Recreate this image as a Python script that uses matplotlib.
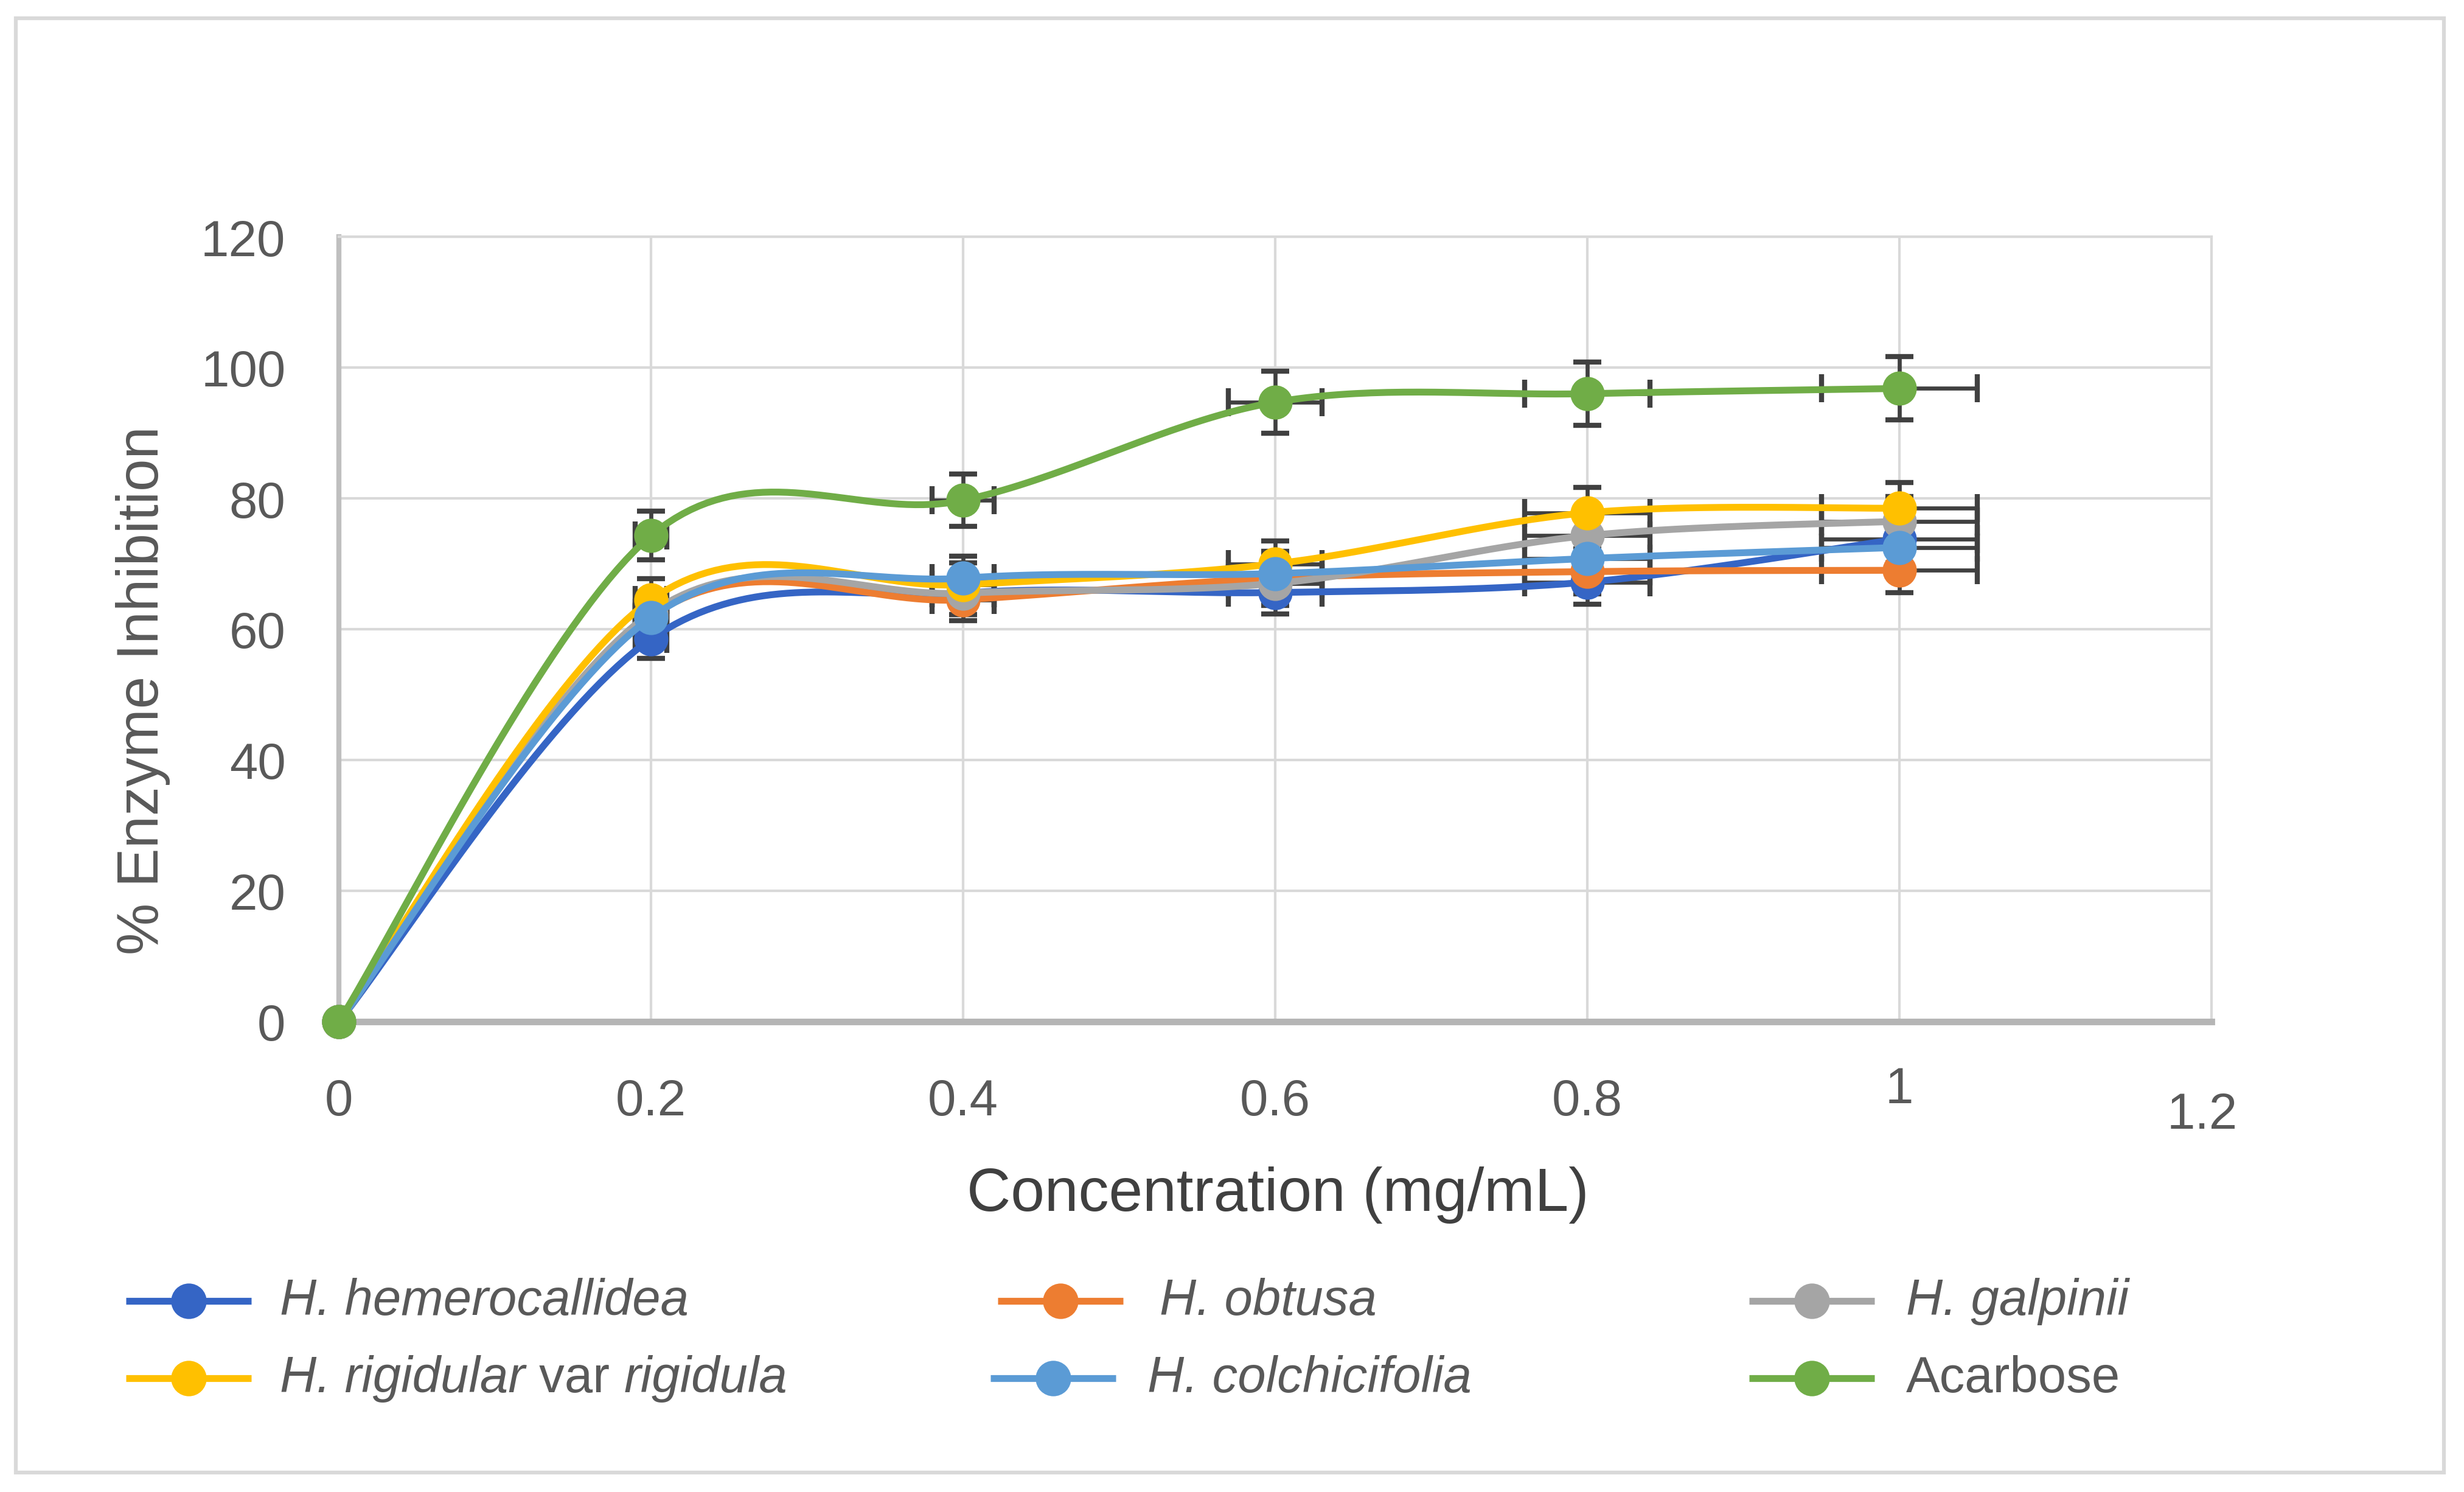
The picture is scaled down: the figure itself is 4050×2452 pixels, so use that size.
import numpy as np
import matplotlib
matplotlib.use("Agg")
import matplotlib.pyplot as plt
from matplotlib.lines import Line2D
from matplotlib.patches import Rectangle
from matplotlib.transforms import ScaledTranslation

plt.rcParams['font.family'] = ['Liberation Sans', 'DejaVu Sans']

# ---- data ----
conc = [0, 0.2, 0.4, 0.6, 0.8, 1.0]
hemerocallidea = [0, 58.5, 65.5, 65.6, 67.2, 73.8]
obtusa = [0, 62.0, 64.5, 67.8, 68.8, 69.0]
galpinii = [0, 62.5, 65.5, 67.0, 74.3, 76.5]
rigidula = [0, 64.5, 66.8, 70.0, 77.8, 78.5]
colchicifolia = [0, 61.8, 67.8, 68.5, 70.8, 72.5]
acarbose = [0, 74.3, 79.7, 94.7, 96.0, 96.8]
err_pct = 0.05   # Excel percentage error bars, both directions

# legend labels as (text piece, italic?) runs
legend_labels = [[("H. hemerocallidea", True)],
                 [("H. obtusa", True)],
                 [("H. galpinii", True)],
                 [("H. rigidular", True), (" var ", False), ("rigidula", True)],
                 [("H. colchicifolia", True)],
                 [("Acarbose", False)]]
series_vals = [hemerocallidea, obtusa, galpinii, rigidula, colchicifolia, acarbose]
colors = ['#3565C5', '#ED7D31', '#A5A5A5', '#FFC000', '#5B9BD5', '#70AD47']


def smooth(xs, ys, n=40):
    """Excel-style smoothed line: cubic Bezier through points, tangent = (next - prev)/6."""
    pts = np.column_stack([xs, ys]).astype(float)
    out = []
    for i in range(len(pts) - 1):
        p0 = pts[i - 1] if i > 0 else pts[i]
        p1, p2 = pts[i], pts[i + 1]
        p3 = pts[i + 2] if i + 2 < len(pts) else pts[i + 1]
        c1 = p1 + (p2 - p0) / 6
        c2 = p2 - (p3 - p1) / 6
        t = np.linspace(0, 1, n)[:, None]
        seg = (1 - t)**3 * p1 + 3 * (1 - t)**2 * t * c1 + 3 * (1 - t) * t**2 * c2 + t**3 * p2
        out.append(seg if i == 0 else seg[1:])
    return np.vstack(out)


W, H = 4050, 2453
fig = plt.figure(figsize=(W / 300, H / 300), dpi=300)
ax = fig.add_axes([557 / W, 1 - 1680 / H, (3635 - 557) / W, (1680 - 390) / H])

x = np.array(conc)
for vals in series_vals:
    y = np.array(vals, dtype=float)
    ax.errorbar(x, y, yerr=err_pct * y, xerr=err_pct * x, fmt='none', ecolor='#404040',
                elinewidth=1.6, capsize=5.5, capthick=2.0, zorder=2)
for i, (vals, c) in enumerate(zip(series_vals, colors)):
    curve = smooth(conc, vals)
    z = 3 + i * 0.1
    ax.plot(curve[:, 0], curve[:, 1], color=c, lw=2.7, solid_capstyle='round', zorder=z)
    ax.plot(conc, vals, 'o', color=c, ms=12.5, mec=c, zorder=z + 0.05, clip_on=False)

ax.set_xlim(0, 1.2)
ax.set_ylim(0, 120)
ax.set_xticks([0, 0.2, 0.4, 0.6, 0.8, 1.0, 1.2])
ax.set_xticklabels(["0", "0.2", "0.4", "0.6", "0.8", "1", "1.2"])
ax.set_yticks(range(0, 121, 20))
ax.grid(True, color='#D9D9D9', lw=1.0, zorder=0)
ax.set_axisbelow(True)
ax.tick_params(length=0, labelsize=20, labelcolor='#595959')
ax.tick_params(axis='y', pad=21)
ax.tick_params(axis='x', pad=22)
for side in ['top', 'right']:
    ax.spines[side].set_color('#D9D9D9')
    ax.spines[side].set_linewidth(1.0)
ax.spines['left'].set_color('#BFBFBF')
ax.spines['left'].set_linewidth(2.0)
ax.spines['bottom'].set_color('#B5B5B5')
ax.spines['bottom'].set_linewidth(2.6)

# staggered x tick labels as in the reference
lbls = ax.get_xticklabels()
lbls[5].set_transform(lbls[5].get_transform() + ScaledTranslation(0, 20 / 300, fig.dpi_scale_trans))
lbls[6].set_transform(lbls[6].get_transform() + ScaledTranslation(-15 / 300, -22 / 300, fig.dpi_scale_trans))

fig.text(2100 / W, 1 - 1964 / H, "Concentration (mg/mL)", ha='center', va='center',
         fontsize=24, color='#404040')
fig.text(235 / W, 1 - 1135 / H, "% Enzyme Inhibition", rotation=90, ha='center', va='center',
         fontsize=23, color='#595959')

# legend, drawn by hand (3 columns x 2 rows)
renderer = fig.canvas.get_renderer()
leg_pos = [(207, 2139, 460), (1640, 2139, 1906), (2875, 2139, 3133),
           (207, 2266, 460), (1628, 2266, 1886), (2875, 2266, 3133)]
for (hx, hy, tx), runs, c in zip(leg_pos, legend_labels, colors):
    yy = 1 - hy / H
    fig.add_artist(Line2D([hx / W, (hx + 206) / W], [yy, yy], transform=fig.transFigure,
                          color=c, lw=2.7, solid_capstyle='butt'))
    fig.add_artist(Line2D([(hx + 103) / W], [yy], transform=fig.transFigure,
                          marker='o', ms=13, color=c, mec=c))
    xpos = tx
    for piece, ital in runs:
        t = fig.text(xpos / W, yy, piece, ha='left', va='center', fontsize=20, color='#595959',
                     style='italic' if ital else 'normal')
        xpos += t.get_window_extent(renderer).width

fig.add_artist(Rectangle((26 / W, 1 - 2421 / H), (4017 - 26) / W, (2421 - 31) / H,
                         transform=fig.transFigure, fill=False, ec='#D9D9D9', lw=1.5))

fig.savefig("out.png", dpi=300, facecolor='white')
